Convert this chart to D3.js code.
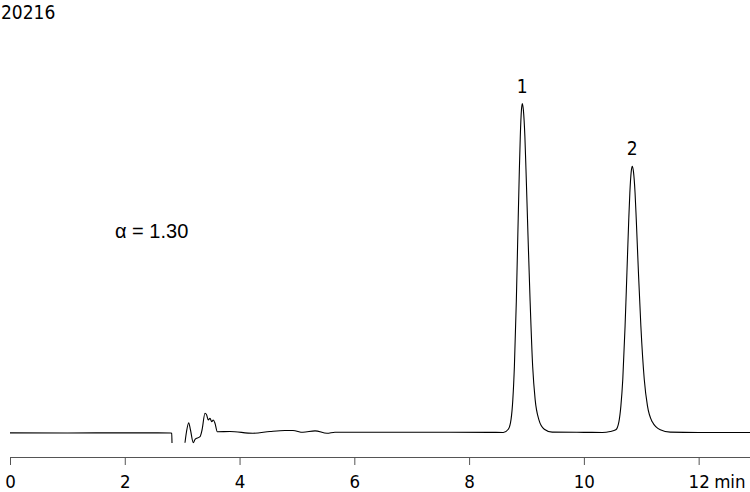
<!DOCTYPE html>
<html>
<head>
<meta charset="utf-8">
<script src="https://cdn.jsdelivr.net/npm/d3@7"></script>
<style>
  html, body { margin: 0; padding: 0; background: #fff; }
  svg { display: block; }
</style>
</head>
<body>
<svg id="chart" width="750" height="492"></svg>
<script>
// ---- Data ----
// retention time (min) and detector signal (relative units, peak 1 = 100); null = gap in trace
const time = [
  0, 1.0, 2.0, 2.80, 2.818, 2.823, null,
  3.049, 3.075, 3.114, 3.145, 3.194, 3.224, 3.311, 3.346, 3.398, 3.427, 3.455, 3.485, 3.515, 3.542, 3.572, 3.612,
  3.833, 4.234, 4.53, 4.792, 4.931, 5.105, 5.315, 5.524, 5.663, 7.667, 8.364,
  8.596, 8.683, 8.731, 8.762, 8.789, 8.823, 8.849, 8.876, 8.892, 8.912, 8.927,
  8.946, 8.972, 8.991, 9.026, 9.063, 9.108, 9.151, 9.214, 9.310, 9.449,
  10.0, 10.321, 10.460, 10.556, 10.610, 10.645, 10.678, 10.718, 10.750, 10.782, 10.801, 10.825, 10.843,
  10.864, 10.892, 10.913, 10.951, 10.993, 11.052, 11.108, 11.192, 11.331, 11.505,
  12.0, 12.9
];
const signal = [
  -0.1, -0.15, -0.1, -0.15, -0.25, -3.2, null,
  -3.1, 0.15, 2.98, 0.76, -3.1, -2.07, -1.28, 0.76, 5.84, 5.32, 3.8, 4.32, 3.28, 3.8, 2.8, 0.24,
  0.3, -0.24, 0.3, 0.6, 0.6, 0.06, 0.5, -0.24, 0.09, 0.09, 0.05,
  0, 1, 4, 10, 20, 40, 60, 80, 90, 98, 100,
  98, 90, 80, 60, 40, 20, 10, 4, 1, 0.1,
  0.05, 0, 0.3, 0.81, 3.24, 8.09, 16.18, 32.36, 48.54, 64.72, 72.81, 79.28, 80.9,
  79.28, 72.81, 64.72, 48.54, 32.36, 16.18, 8.09, 3.24, 0.81, 0.1,
  0, 0
];
const tickValues = [0, 2, 4, 6, 8, 10, 12];
const unitLabel = "min";
const sampleId = "20216";
const peakLabels = ["1", "2"];
const peakTimes = [8.927, 10.843];
const peakSignals = [100, 80.9];
const annotation = "\u03b1 = 1.30";

// ---- Drawing ----
const svg = d3.select("#chart");
const x = d3.scaleLinear().domain([0, 12.9]).range([10, 750.3]);
const y = d3.scaleLinear().domain([0, 100]).range([432.5, 103.5]);

const pts = time.map((t, i) => ({ t, s: signal[i] }));
const line = d3.line()
  .defined(d => d.t !== null && d.s !== null)
  .x(d => x(d.t))
  .y(d => y(d.s))
  .curve(d3.curveMonotoneX);

svg.append("path")
  .datum(pts)
  .attr("d", line)
  .attr("fill", "none")
  .attr("stroke", "#000")
  .attr("stroke-width", 1.1);

const font = "'DejaVu Sans Condensed', 'DejaVu Sans', sans-serif";

// axis
const axisY = 457;
const axis = d3.axisBottom(x)
  .tickValues(tickValues)
  .tickSize(8)
  .tickSizeOuter(0)
  .tickFormat(d3.format("d"));
const gAxis = svg.append("g").attr("transform", `translate(0,${axisY})`).call(axis);
gAxis.select(".domain").attr("stroke", "#555").attr("stroke-width", 1);
gAxis.selectAll(".tick line").attr("stroke", "#555");
gAxis.selectAll(".tick text")
  .attr("font-family", font)
  .attr("font-size", 18.5)
  .attr("fill", "#000")
  .attr("dy", null)
  .attr("y", 487.5 - axisY);

// unit label after "12"
svg.append("text")
  .attr("x", x(12) + 15.5)
  .attr("y", 487.5)
  .attr("font-family", font)
  .attr("font-size", 18.5)
  .text(unitLabel);

// sample id
svg.append("text")
  .attr("x", 1).attr("y", 18.5)
  .attr("font-family", font)
  .attr("font-size", 19)
  .text(sampleId);

// peak labels
svg.selectAll("text.peak")
  .data(peakLabels)
  .enter().append("text")
  .attr("class", "peak")
  .attr("x", (d, i) => x(peakTimes[i]))
  .attr("y", (d, i) => y(peakSignals[i]) - 11)
  .attr("text-anchor", "middle")
  .attr("font-family", font)
  .attr("font-size", 19)
  .text(d => d);

// selectivity annotation
svg.append("text")
  .attr("x", 115).attr("y", 238)
  .attr("font-family", "'Liberation Sans', Arial, sans-serif")
  .attr("font-size", 20)
  .text(annotation);
</script>
</body>
</html>
